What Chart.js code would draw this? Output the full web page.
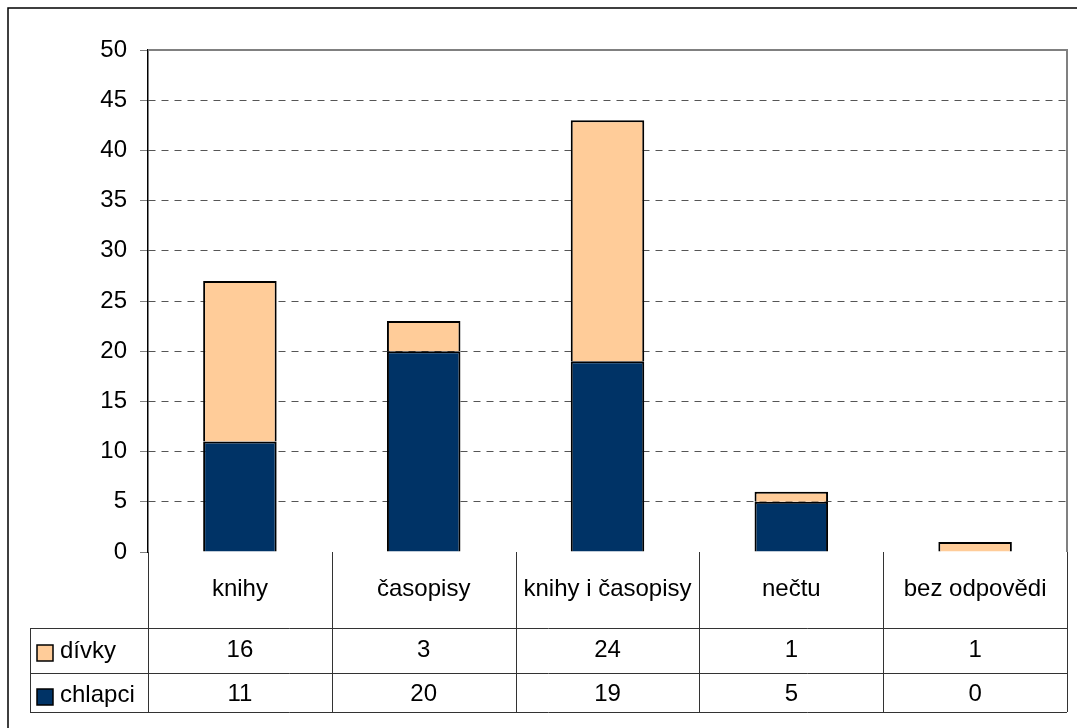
<!DOCTYPE html>
<html>
<head>
<meta charset="utf-8">
<script src="https://cdn.jsdelivr.net/npm/chart.js@4"></script>
<style>
  html, body { margin: 0; padding: 0; background: #fff; }
  canvas { display: block; }
</style>
</head>
<body>
<canvas id="chart" width="1077" height="728"></canvas>
<script>
// data
const categories = ["knihy", "časopisy", "knihy i časopisy", "nečtu", "bez odpovědi"];
const divky = [16, 3, 24, 1, 1];
const chlapci = [11, 20, 19, 5, 0];
const seriesNames = ["dívky", "chlapci"];
const seriesColors = ["#FFCC99", "#003366"];

const FONT = "Liberation Sans, Arial, sans-serif";

// draws the data table under the plot, with legend keys, plus the frames
const tablePlugin = {
  id: "tablePlugin",
  afterDraw(chart) {
    const { ctx, chartArea, scales } = chart;
    const left = chartArea.left, right = chartArea.right;
    const top0 = chartArea.bottom;
    const rowCat = top0 + 76, rowA = rowCat + 45, rowB = rowA + 39;
    const keyLeft = 30;

    ctx.save();
    // outer frame (runs off the right and bottom edges)
    ctx.strokeStyle = "#000";
    ctx.lineWidth = 1.5;
    ctx.beginPath();
    ctx.moveTo(8, 730); ctx.lineTo(8, 8); ctx.lineTo(1080, 8);
    ctx.stroke();

    // plot area border (top + right)
    ctx.strokeStyle = "#808080";
    ctx.lineWidth = 2;
    ctx.beginPath();
    ctx.moveTo(left, chartArea.top); ctx.lineTo(right, chartArea.top); ctx.lineTo(right, top0);
    ctx.stroke();

    // table grid
    ctx.strokeStyle = "#333";
    ctx.lineWidth = 1;
    ctx.beginPath();
    const step = (right - left) / categories.length;
    for (let i = 0; i <= categories.length; i++) {
      const x = Math.round(left + i * step) + 0.5;
      ctx.moveTo(x, top0); ctx.lineTo(x, rowB);
    }
    [rowCat, rowA, rowB].forEach(y => {
      ctx.moveTo(keyLeft, y + 0.5); ctx.lineTo(right, y + 0.5);
    });
    ctx.moveTo(keyLeft + 0.5, rowCat); ctx.lineTo(keyLeft + 0.5, rowB);
    ctx.stroke();

    // text
    ctx.fillStyle = "#000";
    ctx.font = "24px " + FONT;
    ctx.textAlign = "center";
    ctx.textBaseline = "middle";
    const rows = [divky, chlapci];
    categories.forEach((c, i) => {
      const x = scales.x.getPixelForValue(i);
      ctx.fillText(c, x, top0 + 37);
      ctx.fillText(String(rows[0][i]), x, rowCat + 22);
      ctx.fillText(String(rows[1][i]), x, rowA + 21);
    });

    // legend keys
    const rowMid = [rowCat + 25, rowA + 24];
    seriesNames.forEach((name, k) => {
      const y = rowMid[k];
      ctx.fillStyle = seriesColors[k];
      ctx.fillRect(37, y - 8, 16, 16);
      ctx.strokeStyle = "#000";
      ctx.lineWidth = 1.5;
      ctx.strokeRect(37, y - 8, 16, 16);
      ctx.fillStyle = "#000";
      ctx.textAlign = "left";
      ctx.fillText(name, 60, y - 2);
    });
    ctx.restore();
  }
};

new Chart(document.getElementById("chart"), {
  type: "bar",
  data: {
    labels: categories,
    datasets: [
      {
        label: seriesNames[1],
        data: chlapci,
        backgroundColor: seriesColors[1],
        borderColor: "#000",
        borderWidth: 2,
        barPercentage: 0.4,
        categoryPercentage: 1
      },
      {
        label: seriesNames[0],
        data: divky,
        backgroundColor: seriesColors[0],
        borderColor: "#000",
        borderWidth: 2,
        barPercentage: 0.4,
        categoryPercentage: 1
      }
    ]
  },
  options: {
    responsive: false,
    animation: false,
    layout: { padding: { top: 50, right: 10, bottom: 176, left: 0 } },
    scales: {
      x: {
        display: false,
        stacked: true
      },
      y: {
        stacked: true,
        min: 0,
        max: 50,
        afterFit: s => { s.width = 148; },
        ticks: {
          stepSize: 5,
          color: "#000",
          padding: 13,
          font: { family: FONT, size: 24 }
        },
        grid: {
          color: ctx => (ctx.tick && (ctx.tick.value === 0 || ctx.tick.value === 50)) ? "rgba(0,0,0,0)" : "#555",
          lineWidth: 1,
          tickLength: 8,
          tickColor: "#808080",
          tickBorderDash: []
        },
        border: {
          display: true,
          color: "#000",
          width: 1.5,
          dash: [7, 6]
        }
      }
    },
    plugins: {
      legend: { display: false },
      tooltip: { enabled: false }
    }
  },
  plugins: [tablePlugin]
});
</script>
</body>
</html>
